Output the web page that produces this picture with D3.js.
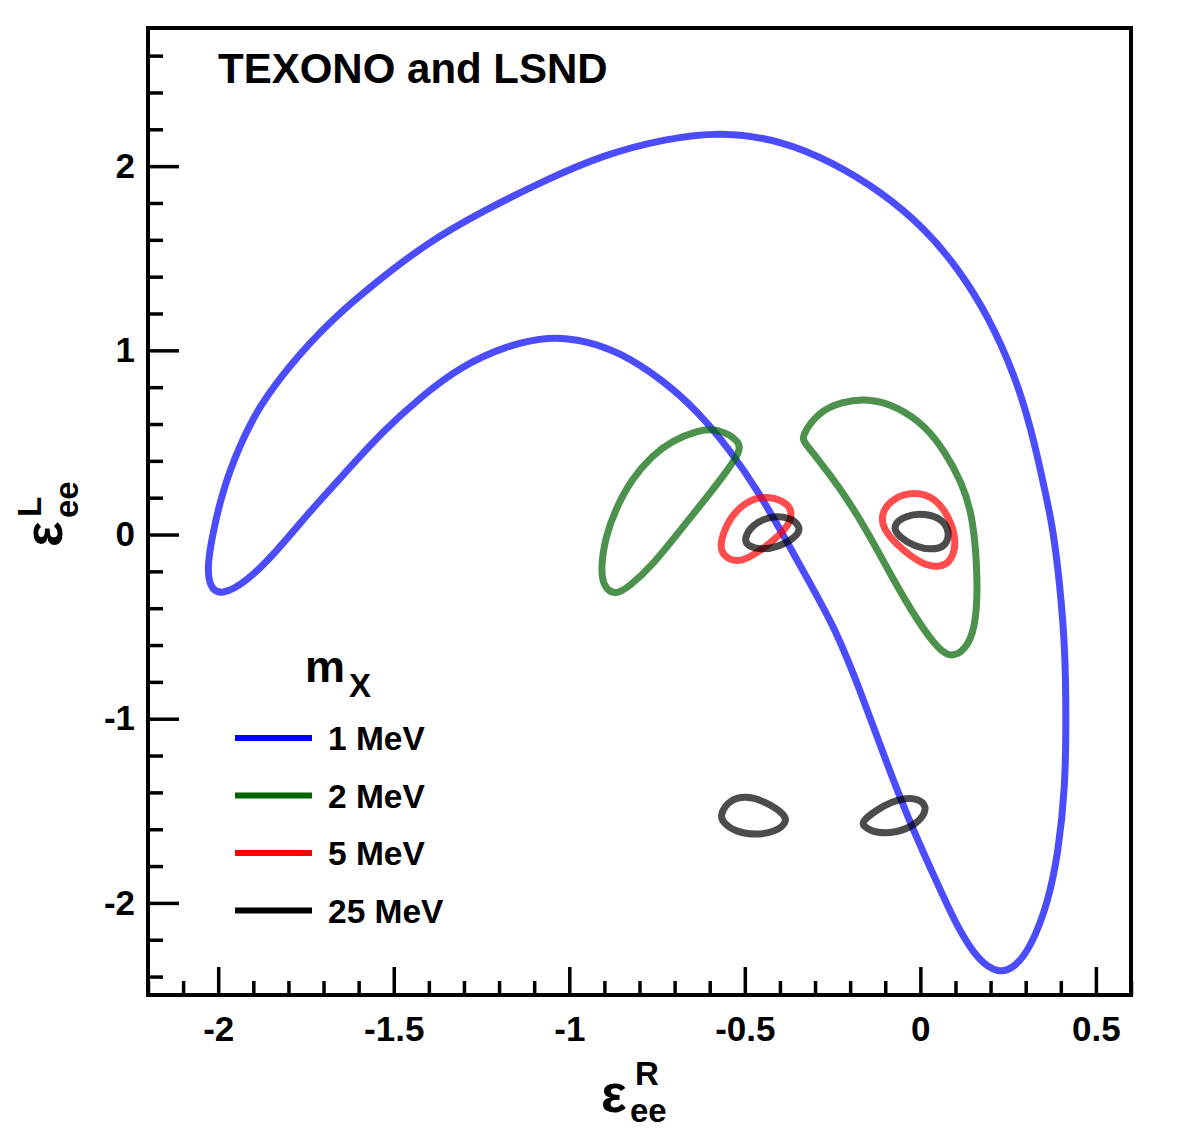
<!DOCTYPE html>
<html>
<head>
<meta charset="utf-8">
<script src="https://cdn.jsdelivr.net/npm/d3@7"></script>
<style>
  body { margin: 0; background: #fff; }
  text { font-family: "Liberation Sans", Arial, Helvetica, sans-serif; font-weight: bold; }
</style>
</head>
<body>
<div id="chart"></div>
<script>
// mass labels and colours of the legend
const masses = ["1 MeV", "2 MeV", "5 MeV", "25 MeV"];
const colors = ["#0000ff", "#006400", "#ff0000", "#000000"];

// contours, [eps_R, eps_L]
const contour1MeV = [
    [-2.031, -0.171], [-2.017, -0.008], [-1.989, 0.231], [-1.940, 0.481], [-1.883, 0.698],
    [-1.798, 0.916], [-1.684, 1.155], [-1.550, 1.372], [-1.400, 1.590], [-1.249, 1.753],
    [-1.078, 1.916], [-0.902, 2.063], [-0.725, 2.149], [-0.566, 2.188], [-0.395, 2.139],
    [-0.253, 2.024], [-0.111, 1.861], [0.014, 1.660], [0.108, 1.443], [0.193, 1.188],
    [0.270, 0.861], [0.316, 0.573], [0.356, 0.231], [0.378, 0.030], [0.398, -0.280],
    [0.413, -0.639], [0.415, -1.003], [0.413, -1.367], [0.393, -1.726], [0.364, -1.997],
    [0.316, -2.236], [0.270, -2.350], [0.222, -2.385], [0.165, -2.312], [0.108, -2.144],
    [0.043, -1.872], [-0.034, -1.546], [-0.100, -1.220], [-0.176, -0.823], [-0.242, -0.514],
    [-0.310, -0.280], [-0.384, -0.024], [-0.461, 0.231], [-0.538, 0.448], [-0.632, 0.666],
    [-0.737, 0.845], [-0.859, 0.992], [-0.953, 1.052], [-1.058, 1.078], [-1.181, 1.024],
    [-1.306, 0.916], [-1.420, 0.753], [-1.533, 0.557], [-1.636, 0.340], [-1.733, 0.139],
    [-1.835, -0.095], [-1.920, -0.258], [-1.992, -0.333], [-2.025, -0.285]
];
const contour2MeVLeft = [
    [-0.512, 0.503], [-0.575, 0.578], [-0.640, 0.563], [-0.708, 0.508], [-0.765, 0.427],
    [-0.822, 0.302], [-0.868, 0.139], [-0.896, -0.008], [-0.910, -0.171], [-0.904, -0.285],
    [-0.868, -0.330], [-0.831, -0.285], [-0.765, -0.171], [-0.688, 0.014], [-0.612, 0.193],
    [-0.546, 0.356], [-0.515, 0.448]
];
const contour2MeVRight = [
    [-0.338, 0.535], [-0.290, 0.666], [-0.225, 0.720], [-0.148, 0.740], [-0.063, 0.693],
    [0.014, 0.590], [0.071, 0.448], [0.117, 0.285], [0.151, 0.101], [0.165, -0.280],
    [0.156, -0.514], [0.128, -0.627], [0.088, -0.668], [0.051, -0.622], [-0.006, -0.476],
    [-0.083, -0.226], [-0.154, 0.030], [-0.233, 0.264], [-0.299, 0.427], [-0.332, 0.503]
];
const contour5MeVLeft = [
    [-0.570, -0.041], [-0.546, 0.084], [-0.498, 0.180], [-0.441, 0.212], [-0.384, 0.180],
    [-0.363, 0.122], [-0.376, 0.046], [-0.413, -0.024], [-0.461, -0.095], [-0.509, -0.148],
    [-0.546, -0.137], [-0.567, -0.095]
];
const contour5MeVRight = [
    [-0.115, 0.101], [-0.083, 0.197], [-0.014, 0.235], [0.043, 0.197], [0.080, 0.101],
    [0.104, -0.024], [0.090, -0.148], [0.051, -0.181], [0.003, -0.160], [-0.054, -0.079],
    [-0.101, 0.014]
];
const contour25MeVA = [
    [-0.502, -0.024], [-0.481, 0.050], [-0.432, 0.099], [-0.376, 0.099], [-0.337, 0.041],
    [-0.356, -0.018], [-0.404, -0.067], [-0.452, -0.083], [-0.493, -0.063]
];
const contour25MeVB = [
    [-0.081, 0.046], [-0.043, 0.105], [0.014, 0.115], [0.063, 0.084], [0.084, 0.014],
    [0.073, -0.067], [0.031, -0.083], [-0.014, -0.067], [-0.061, -0.014]
];
const contour25MeVC = [
    [-0.570, -1.519], [-0.546, -1.444], [-0.498, -1.417], [-0.441, -1.450], [-0.386, -1.519],
    [-0.380, -1.562], [-0.413, -1.615], [-0.469, -1.632], [-0.526, -1.615], [-0.564, -1.562]
];
const contour25MeVD = [
    [-0.166, -1.557], [-0.128, -1.500], [-0.083, -1.450], [-0.026, -1.423], [0.012, -1.454],
    [0.017, -1.508], [-0.014, -1.577], [-0.071, -1.621], [-0.128, -1.621], [-0.163, -1.584]
];

const xMajor = [-2, -1.5, -1, -0.5, 0, 0.5];
const yMajor = [-2, -1, 0, 1, 2];

const width = 1182, height = 1138;
const margin = { top: 28, right: 51, bottom: 143, left: 148 };
const mwidth = width - margin.left - margin.right;
const mheight = height - margin.top - margin.bottom;

const svg = d3.select("#chart").append("svg")
    .attr("width", width)
    .attr("height", height);

const xScale = d3.scaleLinear().domain([-2.2, 0.6]).range([0, mwidth]);
const yScale = d3.scaleLinear().domain([-2.5, 2.75]).range([mheight, 0]);

const g = svg.append("g")
    .attr("transform", "translate(" + margin.left + "," + margin.top + ")");

g.append("clipPath").attr("id", "clip")
  .append("rect").attr("width", mwidth).attr("height", mheight);

// minor ticks
const xMinor = d3.range(-22, 7).map(d => d / 10).filter(d => !xMajor.some(m => Math.abs(m - d) < 1e-6));
const yMinor = d3.range(-12, 14).map(d => d / 5).filter(d => !yMajor.some(m => Math.abs(m - d) < 1e-6));

g.append("g")
    .attr("transform", "translate(0," + mheight + ")")
    .call(d3.axisBottom(xScale).tickValues(xMinor).tickSize(-14).tickFormat(""))
    .call(a => a.select(".domain").remove());
g.append("g")
    .attr("class", "xAxis")
    .attr("transform", "translate(0," + mheight + ")")
    .call(d3.axisBottom(xScale).tickValues(xMajor).tickSize(-28).tickPadding(21).tickFormat(d => String(d)))
    .call(a => a.select(".domain").remove());
g.append("g")
    .call(d3.axisLeft(yScale).tickValues(yMinor).tickSize(-15).tickFormat(""))
    .call(a => a.select(".domain").remove());
g.append("g")
    .attr("class", "yAxis")
    .call(d3.axisLeft(yScale).tickValues(yMajor).tickSize(-31).tickPadding(13).tickFormat(d => String(d)))
    .call(a => a.select(".domain").remove());

g.selectAll(".tick line").attr("stroke", "#000").attr("stroke-width", 3.5);
g.selectAll(".tick text")
    .attr("font-size", "35px")
    .attr("font-family", "'Liberation Sans', Arial, sans-serif")
    .attr("font-weight", "bold")
    .attr("fill", "#000");

// contours
const contours = [
    { m: 0, pts: contour1MeV },
    { m: 1, pts: contour2MeVLeft },
    { m: 1, pts: contour2MeVRight },
    { m: 2, pts: contour5MeVLeft },
    { m: 2, pts: contour5MeVRight },
    { m: 3, pts: contour25MeVA },
    { m: 3, pts: contour25MeVB },
    { m: 3, pts: contour25MeVC },
    { m: 3, pts: contour25MeVD }
];

const line = d3.line()
    .x(d => xScale(d[0]))
    .y(d => yScale(d[1]))
    .curve(d3.curveBasisClosed);

g.append("g").attr("clip-path", "url(#clip)")
  .selectAll("path")
  .data(contours)
  .enter().append("path")
    .attr("d", d => line(d.pts))
    .attr("fill", "none")
    .attr("stroke", d => colors[d.m])
    .attr("stroke-opacity", 0.7)
    .attr("stroke-width", 7);

// frame
g.append("rect")
    .attr("width", mwidth)
    .attr("height", mheight)
    .attr("fill", "none")
    .attr("stroke", "#000")
    .attr("stroke-width", 4);

// title
g.append("text")
    .attr("x", 70)
    .attr("y", 55)
    .attr("font-size", "42px")
    .text("TEXONO and LSND");

// legend
const legend = g.append("g").attr("transform", "translate(87,654)");
legend.append("text")
    .attr("x", 70).attr("y", 0)
    .attr("font-size", "45px")
    .text("m")
  .append("tspan")
    .attr("dy", 15)
    .attr("dx", 4)
    .attr("font-size", "33px")
    .text("X");

const items = legend.selectAll(".item")
    .data(masses)
    .enter().append("g")
    .attr("class", "item")
    .attr("transform", (d, i) => "translate(0," + (56 + i * 57.5) + ")");
items.append("line")
    .attr("x1", 0).attr("x2", 77)
    .attr("stroke", (d, i) => colors[i])
    .attr("stroke-width", 6);
items.append("text")
    .attr("x", 93).attr("y", 12)
    .attr("font-size", "33.5px")
    .text(d => d);

// x axis title
const xt = svg.append("g").attr("transform", "translate(601,1112)");
xt.append("text").attr("font-size", "54px").attr("font-weight", "normal")
    .attr("font-family", "'DejaVu Sans', sans-serif").text("ε");
xt.append("text").attr("x", 34).attr("y", -27).attr("font-size", "33px").text("R");
xt.append("text").attr("x", 29).attr("y", 10).attr("font-size", "33px").text("ee");

// y axis title
const yt = svg.append("g").attr("transform", "translate(62,547) rotate(-90)");
yt.append("text").attr("font-size", "54px").attr("font-weight", "normal")
    .attr("font-family", "'DejaVu Sans', sans-serif").text("ε");
yt.append("text").attr("x", 30).attr("y", -21).attr("font-size", "33px").text("L");
yt.append("text").attr("x", 29).attr("y", 16).attr("font-size", "33px").text("ee");
</script>
</body>
</html>
